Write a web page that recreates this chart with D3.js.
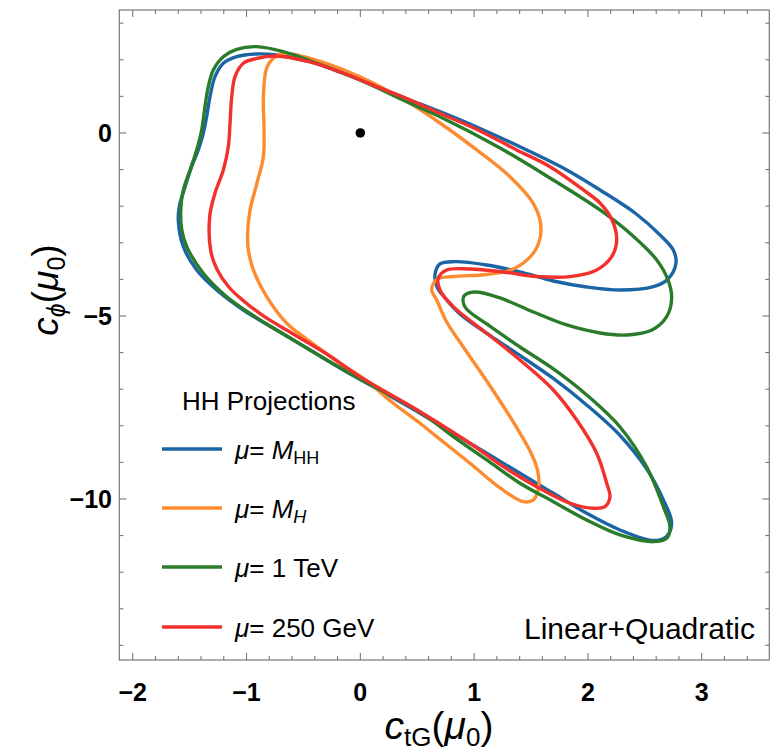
<!DOCTYPE html>
<html>
<head>
<meta charset="utf-8">
<script src="https://cdn.jsdelivr.net/npm/d3@7"></script>
<style>
  body { margin: 0; background: #ffffff; }
  svg { display: block; }
  text { font-family: "Liberation Sans", Arial, Helvetica, sans-serif; fill: #000; }
</style>
</head>
<body>
<svg id="chart" width="771" height="752"></svg>
<script>
// ---- axis ranges and ticks ----
const xDomain = [-2.118, 3.594];
const yDomain = [-14.4, 3.36];
const xMajorTicks = [-2, -1, 0, 1, 2, 3];
const yMajorTicks = [0, -5, -10];

// ---- series (contour outlines in the c_tG / c_phi plane) ----
const seriesKeys = ["MHH", "MH", "1TeV", "250GeV"];
const seriesColors = ["#1b65a7", "#fd8b30", "#2a7c2a", "#f2302c"];

const contourMHH = [
  [-0.917, 2.158], [-0.735, 2.131], [-0.442, 1.948], [-0.149, 1.631], [0.144, 1.265],
  [0.437, 0.902], [0.700, 0.582], [1.052, 0.123], [1.462, -0.464], [1.814, -1.011],
  [2.106, -1.557], [2.414, -2.186], [2.634, -2.787], [2.750, -3.197], [2.774, -3.552],
  [2.704, -3.989], [2.575, -4.199], [2.282, -4.290], [1.989, -4.208], [1.696, -4.044],
  [1.403, -3.798], [1.111, -3.607], [0.832, -3.516], [0.700, -3.579], [0.656, -3.880],
  [0.674, -4.208], [0.744, -4.508], [0.876, -4.945], [1.111, -5.478], [1.403, -6.079],
  [1.696, -6.708], [1.989, -7.432], [2.282, -8.265], [2.517, -9.180], [2.663, -10.027],
  [2.736, -10.656], [2.686, -11.038], [2.575, -11.134], [2.282, -10.847], [1.989, -10.391],
  [1.696, -9.844], [1.403, -9.298], [1.111, -8.751], [0.817, -8.205], [0.525, -7.658],
  [0.114, -6.932], [-0.149, -6.475], [-0.442, -5.929], [-0.735, -5.383], [-1.028, -4.836],
  [-1.262, -4.290], [-1.438, -3.743], [-1.555, -3.107], [-1.599, -2.432], [-1.591, -2.014],
  [-1.540, -1.467], [-1.482, -0.921], [-1.424, -0.464], [-1.380, -0.008], [-1.350, 0.445],
  [-1.321, 0.992], [-1.277, 1.538], [-1.204, 1.904], [-1.086, 2.085]
];

const contourMH = [
  [-0.677, 2.172], [-0.765, 2.041], [-0.823, 1.776], [-0.852, 0.992], [-0.846, 0.082],
  [-0.852, -0.648], [-0.908, -1.366], [-0.969, -2.104], [-0.991, -2.787], [-0.984, -3.197],
  [-0.940, -3.743], [-0.823, -4.473], [-0.647, -5.200], [-0.486, -5.601], [-0.207, -6.230],
  [0.056, -6.776], [0.290, -7.385], [0.525, -7.932], [0.671, -8.298], [0.964, -9.025],
  [1.228, -9.699], [1.432, -10.074], [1.520, -10.027], [1.566, -9.699], [1.557, -9.208],
  [1.500, -8.743], [1.333, -7.842], [1.140, -6.913], [0.911, -5.874], [0.759, -5.164],
  [0.671, -4.563], [0.627, -4.290], [0.671, -4.003], [0.817, -3.921], [1.111, -3.866],
  [1.344, -3.716], [1.520, -3.287], [1.583, -2.814], [1.579, -2.377], [1.520, -1.921],
  [1.315, -1.194], [1.023, -0.464], [0.700, 0.273], [0.437, 0.811], [-0.003, 1.538],
  [-0.442, 2.041]
];

const contour1TeV = [
  [-0.910, 2.358], [-0.677, 2.221], [-0.383, 1.904], [-0.003, 1.448], [0.437, 0.811],
  [0.700, 0.445], [1.228, -0.410], [1.667, -1.230], [2.106, -2.104], [2.396, -2.814],
  [2.605, -3.470], [2.704, -4.016], [2.736, -4.508], [2.692, -5.019], [2.563, -5.383],
  [2.341, -5.519], [2.106, -5.464], [1.814, -5.246], [1.520, -4.891], [1.228, -4.508],
  [1.008, -4.344], [0.911, -4.454], [0.920, -4.754], [1.111, -5.219], [1.403, -5.847],
  [1.696, -6.448], [1.989, -7.158], [2.282, -8.033], [2.517, -9.126], [2.663, -10.210],
  [2.721, -10.757], [2.692, -11.074], [2.575, -11.167], [2.282, -10.984], [1.989, -10.574],
  [1.696, -10.074], [1.403, -9.571], [1.111, -8.934], [0.817, -8.298], [0.525, -7.623],
  [-0.003, -6.721], [-0.295, -6.202], [-0.589, -5.656], [-0.881, -5.109], [-1.174, -4.473],
  [-1.380, -3.833], [-1.525, -3.107], [-1.569, -2.650], [-1.578, -2.104], [-1.555, -1.557],
  [-1.496, -1.011], [-1.438, -0.464], [-1.394, 0.082], [-1.365, 0.719], [-1.336, 1.265],
  [-1.292, 1.721], [-1.204, 2.085], [-1.086, 2.287]
];

const contour250GeV = [
  [-0.750, 2.104], [-0.910, 2.036], [-1.028, 1.904], [-1.101, 1.538], [-1.130, 0.992],
  [-1.145, 0.265], [-1.160, -0.374], [-1.204, -1.011], [-1.277, -1.648], [-1.323, -2.268],
  [-1.314, -3.224], [-1.261, -3.716], [-1.156, -4.208], [-1.015, -4.617], [-0.839, -5.027],
  [-0.589, -5.492], [-0.295, -6.038], [-0.003, -6.658], [0.525, -7.615], [0.964, -8.478],
  [1.257, -9.117], [1.550, -9.664], [1.843, -10.117], [2.047, -10.254], [2.150, -10.210],
  [2.194, -9.937], [2.165, -9.571], [2.077, -8.751], [1.902, -7.842], [1.696, -7.022],
  [1.403, -6.202], [1.111, -5.473], [0.817, -4.746], [0.700, -4.290], [0.685, -3.970],
  [0.759, -3.743], [0.964, -3.716], [1.257, -3.798], [1.550, -3.921], [1.843, -3.926],
  [2.077, -3.743], [2.209, -3.380], [2.253, -2.923], [2.212, -2.377], [2.106, -1.913],
  [1.960, -1.557], [1.667, -0.921], [1.374, -0.464], [1.052, 0.055], [0.700, 0.538],
  [0.437, 0.902], [0.144, 1.265], [-0.149, 1.631], [-0.442, 1.940]
];

const contours = [contourMHH, contourMH, contour1TeV, contour250GeV];
const bestFit = [[0, 0]];

// ---- layout ----
const svg = d3.select("#chart");
const frame = { left: 119.3, right: 769.3, top: 10, bottom: 660 };
const x = d3.scaleLinear().domain(xDomain).range([frame.left, frame.right]);
const y = d3.scaleLinear().domain(yDomain).range([frame.bottom, frame.top]);

// contours
const line = d3.line()
  .x(d => x(d[0]))
  .y(d => y(d[1]))
  .curve(d3.curveCatmullRomClosed.alpha(0.5));

svg.append("g")
  .selectAll("path")
  .data(contours)
  .join("path")
  .attr("d", d => line(d))
  .attr("fill", "none")
  .attr("stroke", (d, i) => seriesColors[i])
  .attr("stroke-width", 3.4)
  .attr("stroke-linejoin", "round");

// best-fit point
svg.append("g")
  .selectAll("circle")
  .data(bestFit)
  .join("circle")
  .attr("cx", d => x(d[0]))
  .attr("cy", d => y(d[1]))
  .attr("r", 4.8)
  .attr("fill", "#000");

// frame
svg.append("rect")
  .attr("x", frame.left).attr("y", frame.top)
  .attr("width", frame.right - frame.left)
  .attr("height", frame.bottom - frame.top)
  .attr("fill", "none")
  .attr("stroke", "#777")
  .attr("stroke-width", 1.2);

// ticks on all four sides, pointing inward
const ticksG = svg.append("g").attr("stroke", "#777").attr("stroke-width", 1.1);
const xMinor = d3.range(-20, 35, 2).map(v => v / 10);
xMinor.forEach(v => {
  const major = Math.abs(v - Math.round(v)) < 1e-9;
  const len = major ? 7 : 4;
  ticksG.append("line").attr("x1", x(v)).attr("x2", x(v))
    .attr("y1", frame.bottom).attr("y2", frame.bottom - len);
  ticksG.append("line").attr("x1", x(v)).attr("x2", x(v))
    .attr("y1", frame.top).attr("y2", frame.top + len);
});
const yMinor = d3.range(-14, 4, 1);
yMinor.forEach(v => {
  const major = v % 5 === 0;
  const len = major ? 7 : 4;
  ticksG.append("line").attr("y1", y(v)).attr("y2", y(v))
    .attr("x1", frame.left).attr("x2", frame.left + len);
  ticksG.append("line").attr("y1", y(v)).attr("y2", y(v))
    .attr("x1", frame.right).attr("x2", frame.right - len);
});

const fmt = v => (v < 0 ? "\u2212" + Math.abs(v) : String(v));

// tick labels
svg.append("g")
  .selectAll("text")
  .data(xMajorTicks)
  .join("text")
  .attr("x", d => x(d))
  .attr("y", 701)
  .attr("text-anchor", "middle")
  .attr("font-size", 25)
  .attr("font-weight", "bold")
  .text(fmt);

svg.append("g")
  .selectAll("text")
  .data(yMajorTicks)
  .join("text")
  .attr("x", 112)
  .attr("y", d => y(d) + 9)
  .attr("text-anchor", "end")
  .attr("font-size", 25)
  .attr("font-weight", "bold")
  .text(fmt);

// axis titles
const xt = svg.append("text")
  .attr("x", 439).attr("y", 739)
  .attr("text-anchor", "middle")
  .attr("font-size", 39);
xt.append("tspan").attr("font-style", "italic").text("c");
xt.append("tspan").attr("font-size", 26).attr("dy", 7).text("tG");
xt.append("tspan").attr("dy", -7).text("(");
xt.append("tspan").attr("font-style", "italic").text("\u03bc");
xt.append("tspan").attr("font-size", 26).attr("dy", 7).text("0");
xt.append("tspan").attr("dy", -7).text(")");

const yt = svg.append("text")
  .attr("transform", "translate(58,290) rotate(-90)")
  .attr("text-anchor", "middle")
  .attr("font-size", 37);
yt.append("tspan").attr("font-style", "italic").text("c");
yt.append("tspan").attr("font-size", 25).attr("dy", 7).attr("font-style", "italic").text("\u03d5");
yt.append("tspan").attr("dy", -7).text("(");
yt.append("tspan").attr("font-style", "italic").text("\u03bc");
yt.append("tspan").attr("font-size", 25).attr("dy", 7).text("0");
yt.append("tspan").attr("dy", -7).text(")");

// legend
svg.append("text")
  .attr("x", 182).attr("y", 410)
  .attr("font-size", 26)
  .text("HH Projections");

const legendY = [449, 508, 567, 627];
const legendRows = svg.append("g");
seriesKeys.forEach((key, i) => {
  legendRows.append("line")
    .attr("x1", 162).attr("x2", 222)
    .attr("y1", legendY[i]).attr("y2", legendY[i])
    .attr("stroke", seriesColors[i])
    .attr("stroke-width", 3.4);
  const t = legendRows.append("text")
    .attr("x", 235).attr("y", legendY[i] + 10)
    .attr("font-size", 26);
  t.append("tspan").attr("font-style", "italic").text("\u03bc");
  t.append("tspan").text("= ");
  if (key === "MHH") {
    t.append("tspan").attr("font-style", "italic").text("M");
    t.append("tspan").attr("font-size", 18).attr("dy", 5).text("HH");
  } else if (key === "MH") {
    t.append("tspan").attr("font-style", "italic").text("M");
    t.append("tspan").attr("font-size", 18).attr("dy", 5).attr("font-style", "italic").text("H");
  } else if (key === "1TeV") {
    t.append("tspan").text("1 TeV");
  } else {
    t.append("tspan").text("250 GeV");
  }
});

svg.append("text")
  .attr("x", 524).attr("y", 639)
  .attr("font-size", 30)
  .text("Linear+Quadratic");
</script>
</body>
</html>
